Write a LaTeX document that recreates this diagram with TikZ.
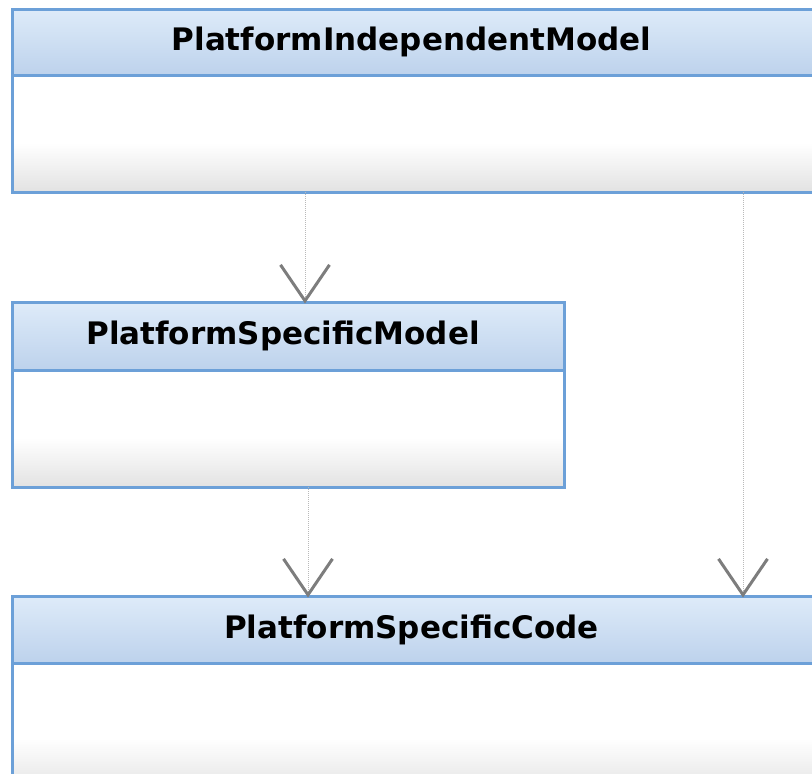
\documentclass[tikz,border=0pt]{standalone}
\usepackage{fontspec}
\setmainfont{DejaVu Sans}
\usetikzlibrary{arrows.meta}

\definecolor{umlborder}{RGB}{108,160,216}
\definecolor{hdrtop}{RGB}{222,235,249}
\definecolor{hdrbot}{RGB}{189,210,236}
\definecolor{bodybot}{RGB}{226,226,226}
\definecolor{linkgray}{RGB}{185,185,185}
\definecolor{tipgray}{RGB}{125,125,125}

% body fill: white in the upper part, fading to light grey at the bottom
\pgfdeclareverticalshading{umlbody}{100bp}{%
  color(0bp)=(bodybot); color(25bp)=(bodybot); color(46bp)=(white); color(100bp)=(white)}

\tikzset{
  umlhead/.style={rectangle, anchor=north west, inner sep=0pt, outer sep=0pt,
    draw=umlborder, line width=3pt, top color=hdrtop, bottom color=hdrbot},
  umlbody/.style={rectangle, anchor=north west, inner sep=0pt, outer sep=0pt,
    draw=umlborder, line width=3pt, shade, shading=umlbody},
  umltitle/.style={anchor=base, inner sep=0pt, font=\bfseries\fontsize{31}{36}\selectfont},
  realize/.style={linkgray, line width=1pt, densely dotted, shorten >=-1.5pt,
    -{Straight Barb[length=36pt, width=49pt, line width=3pt, color=tipgray]}}
}

\begin{document}
\begin{tikzpicture}[x=1pt, y=-1pt]
  \useasboundingbox (0,0) rectangle (812,774);
  \clip (0,0) rectangle (812,774);

  % PlatformIndependentModel
  \node[umlhead, minimum width=809pt, minimum height=66pt] (pimh) at (12,9) {};
  \node[umlbody, minimum width=809pt, minimum height=117pt] (pimb) at (pimh.south west) {};
  \node[umltitle] (pimt) at ([xshift=-5pt, yshift=-41pt]pimh.north) {PlatformIndependentModel};

  % PlatformSpecificModel
  \node[umlhead, minimum width=552pt, minimum height=68pt] (psmh) at (12,302) {};
  \node[umlbody, minimum width=552pt, minimum height=117pt] (psmb) at (psmh.south west) {};
  \node[umltitle] (psmt) at ([xshift=-5pt, yshift=-42pt]psmh.north) {PlatformSpecificModel};

  % PlatformSpecificCode
  \node[umlhead, minimum width=809pt, minimum height=67pt] (pscmh) at (12,596) {};
  \node[umlbody, minimum width=809pt, minimum height=130pt] (pscmb) at (pscmh.south west) {};
  \node[umltitle] (pscmt) at ([xshift=-5pt, yshift=-42pt]pscmh.north) {PlatformSpecificCode};

  % realization links
  \draw[realize] ([xshift=293pt]pimb.south west) -- ([xshift=293pt]psmh.north west);
  \draw[realize] ([xshift=296pt]psmb.south west) -- ([xshift=296pt]pscmh.north west);
  \draw[realize] ([xshift=731pt]pimb.south west) -- ([xshift=731pt]pscmh.north west);
\end{tikzpicture}
\end{document}
